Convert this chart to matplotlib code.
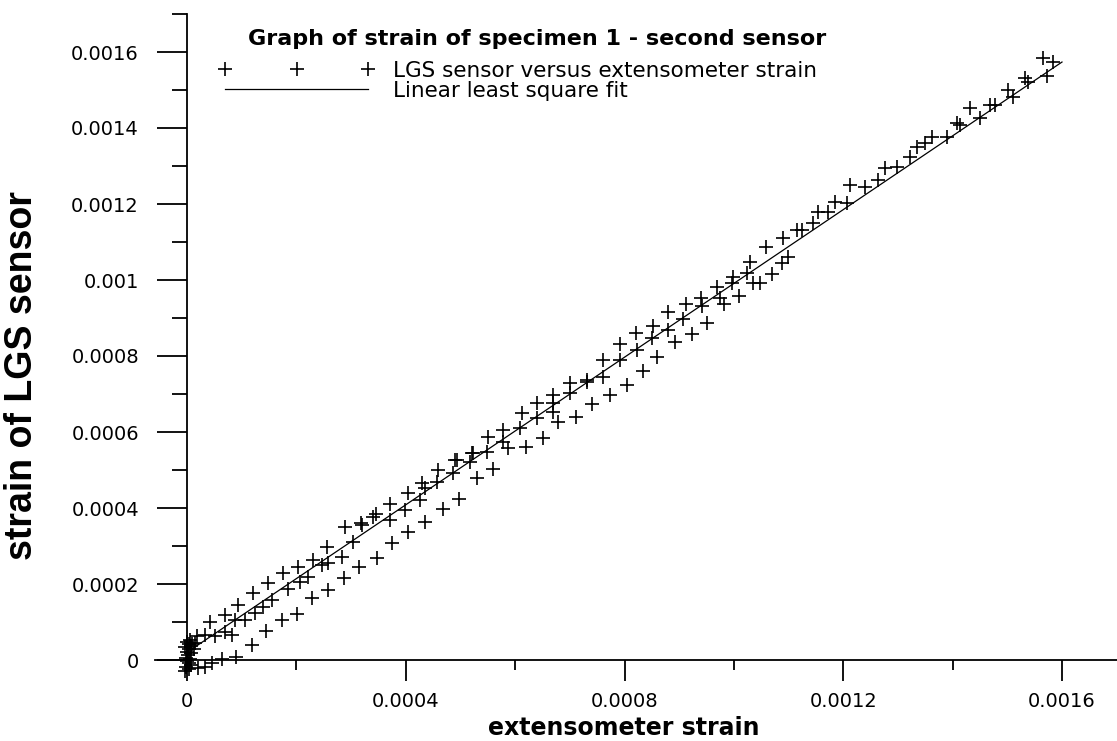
import numpy as np
import matplotlib
matplotlib.use("Agg")
import matplotlib.pyplot as plt
from matplotlib.ticker import MultipleLocator, FuncFormatter

W, H = 1117, 741
SCALE = 1e-4   # values below are in units of 1e-4 strain

# readings taken at the start of the test, extensometer still at zero
zero_x = [0.00, 0.03, 0.07, -0.03, 0.04, 0.00, 0.08, 0.02, -0.02, 0.05,
          0.00, 0.03, 0.07, -0.02, 0.04, 0.10, 0.12, 0.14, -0.04, 0.06]
zero_y = [0.48, 0.42, 0.38, 0.33, 0.28, 0.22, 0.18, 0.12, 0.06, 0.02,
          -0.03, -0.08, -0.13, -0.18, -0.24, 0.42, 0.30, 0.46, -0.30, 0.52]

# first run, sensor lagging behind the extensometer
low_x = [0.64, 0.90, 1.19, 1.45, 1.74, 2.01, 2.29, 2.58, 2.87, 3.14, 3.47,
         3.75, 4.04, 4.35, 4.68, 4.97, 5.30, 5.60, 6.20, 6.51, 6.78, 7.11,
         7.41, 7.73, 8.05, 8.34, 8.60, 8.92, 9.23, 9.51, 9.82, 10.09, 10.35]
low_y = [0.03, 0.08, 0.39, 0.76, 1.05, 1.21, 1.63, 1.84, 2.16, 2.45, 2.68,
         3.08, 3.37, 3.63, 3.97, 4.24, 4.79, 5.03, 5.61, 5.84, 6.26, 6.39,
         6.74, 6.97, 7.24, 7.61, 7.97, 8.37, 8.58, 8.87, 9.37, 9.58, 9.92]

# second run, sensor reading slightly high
high_x = [0.42, 0.69, 0.93, 1.21, 1.48, 1.76, 2.03, 2.30, 2.56, 2.89, 3.18,
          3.46, 3.71, 4.04, 4.30, 4.59, 4.90, 5.23, 5.50, 5.78, 6.12, 6.40,
          6.69, 7.00, 7.31, 7.61, 7.92, 8.21, 8.52, 8.80, 9.12, 9.40, 9.69,
          9.98, 10.30]
high_y = [1.00, 1.18, 1.45, 1.76, 2.03, 2.29, 2.45, 2.63, 2.97, 3.50, 3.61,
          3.84, 4.11, 4.39, 4.66, 5.00, 5.26, 5.45, 5.87, 6.05, 6.50, 6.76,
          6.97, 7.29, 7.37, 7.89, 8.32, 8.61, 8.79, 9.16, 9.37, 9.53, 9.82,
          10.08, 10.47]

# third run, close to the fit over the whole range
mid_x = [0.18, 0.33, 0.51, 0.69, 0.82, 0.88, 1.06, 1.24, 1.39, 1.55, 1.85,
         2.07, 2.21, 2.47, 2.58, 0.20, 0.33, 0.46, 2.83, 3.04, 3.20, 3.40,
         3.71, 3.99, 4.26, 4.35, 4.57, 4.86, 4.94, 5.17, 5.21, 5.49, 5.78,
         5.87, 6.09, 6.40, 6.69, 6.69, 7.00, 7.31, 7.61, 7.92, 8.23, 8.50,
         8.80, 9.07, 9.42, 9.75, 9.97, 10.24, 10.48, 10.70, 10.88, 10.99,
         10.59, 10.90, 11.15, 11.25, 11.45, 11.54, 11.72, 11.85, 12.07,
         12.12, 12.40, 12.64, 12.76, 12.98, 13.22, 13.35, 13.50, 13.62,
         13.90, 14.08, 14.14, 14.32, 14.50, 14.68, 14.77, 15.01, 15.10,
         15.32, 15.38, 15.73, 15.65, 15.84]
mid_y = [0.63, 0.66, 0.63, 0.74, 0.66, 1.05, 1.05, 1.24, 1.39, 1.58, 1.87,
         2.05, 2.18, 2.50, 2.55, -0.21, -0.18, -0.08, 2.71, 3.11, 3.55, 3.76,
         3.68, 3.95, 4.21, 4.53, 4.68, 4.92, 5.26, 5.21, 5.45, 5.47, 5.74,
         5.58, 6.11, 6.37, 6.53, 6.76, 7.03, 7.32, 7.45, 7.89, 8.16, 8.47,
         8.68, 8.97, 9.32, 9.53, 9.92, 10.18, 9.92, 10.16, 10.45, 10.61,
         10.87, 11.11, 11.32, 11.32, 11.50, 11.79, 11.79, 12.05, 12.03,
         12.50, 12.45, 12.63, 12.95, 12.97, 13.24, 13.50, 13.61, 13.76,
         13.76, 14.13, 14.08, 14.53, 14.26, 14.61, 14.61, 15.00, 14.82,
         15.32, 15.21, 15.37, 15.84, 15.74]

# least square line y = a*x + b
fit_slope = 0.971
fit_intercept = 0.2      # 1e-4
fit_range = [0.1, 16.0]  # 1e-4

xtick_labels = {0: "0", 4: "0.0004", 8: "0.0008", 12: "0.0012", 16: "0.0016"}
ytick_labels = {0: "0", 2: "0.0002", 4: "0.0004", 6: "0.0006", 8: "0.0008",
                10: "0.001", 12: "0.0012", 14: "0.0014", 16: "0.0016"}

plt.rcParams["font.family"] = ["DejaVu Sans"]

x = np.concatenate([zero_x, low_x, high_x, mid_x]) * SCALE
y = np.concatenate([zero_y, low_y, high_y, mid_y]) * SCALE
fx = np.array(fit_range) * SCALE
fy = fit_slope * fx + fit_intercept * SCALE

def tick_fmt(table):
    return FuncFormatter(lambda v, pos: table.get(int(round(v / SCALE)), ""))

fig = plt.figure(figsize=(W / 100, H / 100), dpi=100)
ax = fig.add_axes([0, 0, 1, 1])

# pixel -> data: origin at (187, 660), 0.0004 per 218.75 px in x, 0.0002 per 76 px in y
dx = 0.0004 / 218.75
dy = 0.0002 / 76.0
ax.set_xlim(-187 * dx, (W - 187) * dx)
ax.set_ylim(-(H - 660) * dy, 660 * dy)

pts, = ax.plot(x, y, "+", color="black", ms=10, mew=1.2, clip_on=False)
fit, = ax.plot(fx, fy, "-", color="black", lw=0.9)

for s in ["top", "right"]:
    ax.spines[s].set_visible(False)
ax.spines["left"].set_position(("data", 0))
ax.spines["bottom"].set_position(("data", 0))
ax.spines["left"].set_bounds(0, 0.0017)
ax.spines["bottom"].set_bounds(-32 * dx, (W - 187) * dx)
for s in ["left", "bottom"]:
    ax.spines[s].set_linewidth(1.3)

ax.xaxis.set_major_locator(MultipleLocator(0.0004))
ax.xaxis.set_minor_locator(MultipleLocator(0.0002))
ax.xaxis.set_major_formatter(tick_fmt(xtick_labels))
ax.yaxis.set_major_locator(MultipleLocator(0.0002))
ax.yaxis.set_minor_locator(MultipleLocator(0.0001))
ax.yaxis.set_major_formatter(tick_fmt(ytick_labels))

ax.tick_params(axis="x", which="major", direction="out", length=15, width=1.3,
               pad=8, labelsize=14)
ax.tick_params(axis="x", which="minor", direction="out", length=7.5, width=1.3)
ax.tick_params(axis="y", which="major", direction="out", length=21.6, width=1.3,
               pad=13, labelsize=14)
ax.tick_params(axis="y", which="minor", direction="out", length=10.8, width=1.3)
# only label/tick the drawn part of the axes
ax.set_xticks([t for t in ax.get_xticks() if -1e-9 < t < 0.00165])
ax.set_xticks([t for t in ax.get_xticks(minor=True) if 0 < t < 0.00165],
              minor=True)
ax.set_yticks([t for t in ax.get_yticks() if -1e-9 < t < 0.00165])
ax.set_yticks([t for t in ax.get_yticks(minor=True) if 0 < t < 0.00171],
              minor=True)

fig.text(624 / W, 1 - 735 / H, "extensometer strain", ha="center", va="baseline",
         fontsize=17, fontweight="bold")
fig.text(22 / W, 1 - 375 / H, "strain of LGS sensor", ha="center", va="center",
         rotation=90, fontsize=27, fontweight="bold",
         family=["Liberation Sans", "DejaVu Sans"])

fig.text(248 / W, 1 - 39 / H, "Graph of strain of specimen 1 - second sensor",
         ha="left", va="center", fontsize=16, fontweight="bold")
ax.legend([pts, fit], ["LGS sensor versus extensometer strain",
                       "Linear least square fit"],
          loc="upper left", bbox_to_anchor=(219 / W, 1 - 61 / H),
          bbox_transform=fig.transFigure, frameon=False, numpoints=3,
          handlelength=7.2, handletextpad=0.9, labelspacing=0.0,
          borderpad=0, borderaxespad=0, fontsize=15.5)

fig.savefig("out.png", dpi=100)
